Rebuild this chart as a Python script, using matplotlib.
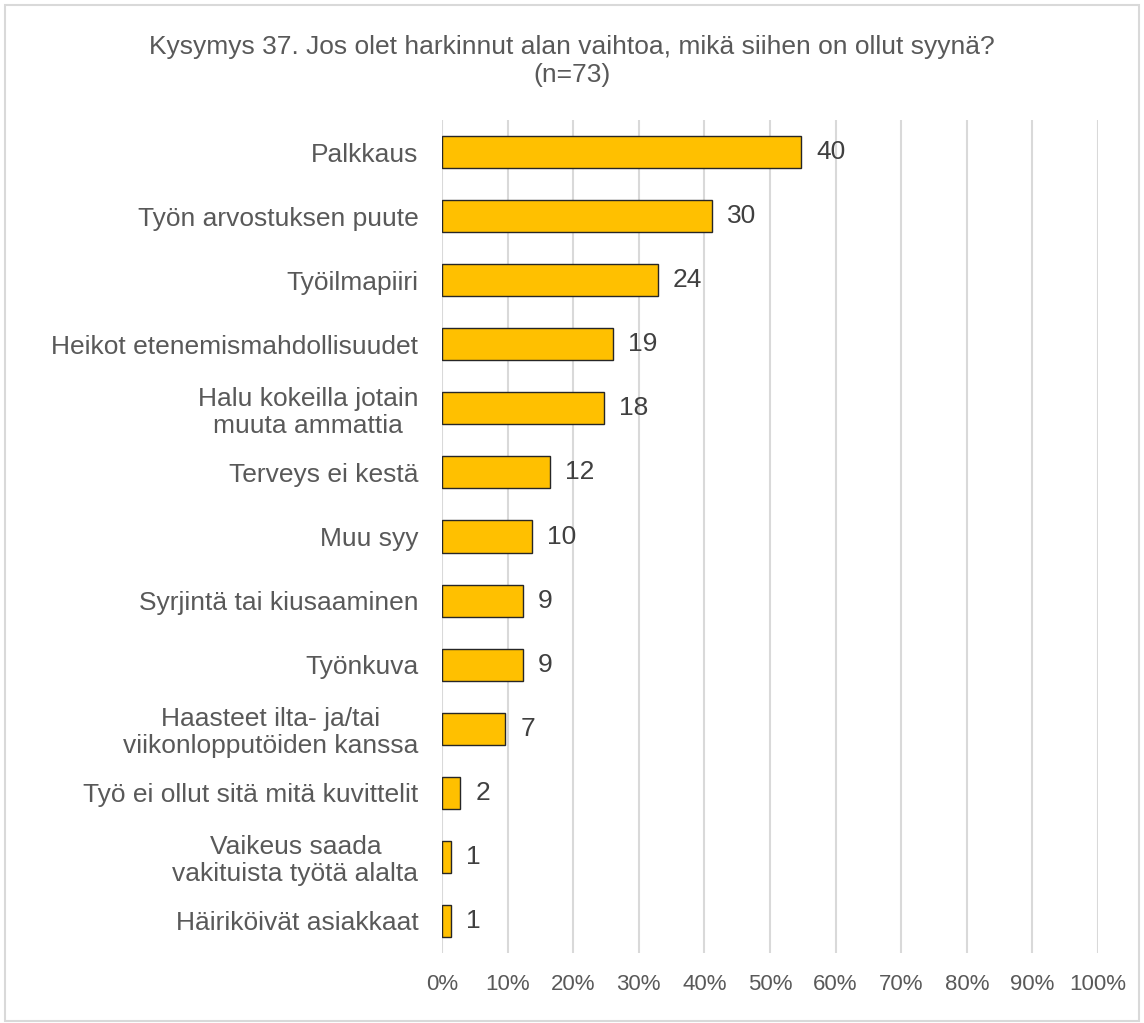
import matplotlib.pyplot as plt
from matplotlib.patches import Rectangle

# data (counts, n=73)
categories = ["Palkkaus", "Työn arvostuksen puute", "Työilmapiiri",
              "Heikot etenemismahdollisuudet", "Halu kokeilla jotain\nmuuta ammattia",
              "Terveys ei kestä", "Muu syy", "Syrjintä tai kiusaaminen", "Työnkuva",
              "Haasteet ilta- ja/tai\nviikonlopputöiden kanssa",
              "Työ ei ollut sitä mitä kuvittelit",
              "Vaikeus saada\nvakituista työtä alalta", "Häiriköivät asiakkaat"]
counts = [40, 30, 24, 19, 18, 12, 10, 9, 9, 7, 2, 1, 1]
n_total = 73
title = "Kysymys 37. Jos olet harkinnut alan vaihtoa, mikä siihen on ollut syynä?\n(n=73)"

plt.rcParams['font.family'] = ['Liberation Sans', 'DejaVu Sans']
txt = "#595959"

fig = plt.figure(figsize=(11.44, 10.23), dpi=100)
ax = fig.add_axes([0.3864, 0.0684, 0.5734, 0.8143])

pct = [c / n_total * 100 for c in counts]
ypos = list(range(len(categories)))[::-1]
ax.barh(ypos, pct, height=0.5, color="#FFC000", edgecolor="#262626", linewidth=1, zorder=3)

for y, p, c in zip(ypos, pct, counts):
    ax.annotate(str(c), (p, y), xytext=(11, 0), textcoords="offset points",
                va="center", ha="left", fontsize=19, color="#404040")

ax.set_xlim(0, 100)
ax.set_ylim(-0.5, len(categories) - 0.5)
ax.set_xticks(range(0, 101, 10))
ax.set_xticklabels([f"{t}%" for t in range(0, 101, 10)], fontsize=16, color=txt)
ax.set_yticks(ypos)
ax.set_yticklabels(categories, fontsize=19, color=txt, multialignment="center",
                   linespacing=1.15)
ax.tick_params(axis="both", length=0)
ax.tick_params(axis="y", pad=17)
ax.tick_params(axis="x", pad=15)
ax.grid(axis="x", color="#D9D9D9", linewidth=1.5, zorder=0)
for s in ax.spines.values():
    s.set_visible(False)

fig.text(0.5, 0.940, title, ha="center", va="center", fontsize=19, color=txt,
         linespacing=1.2)

fig.patches.append(Rectangle((0.004, 0.002), 0.992, 0.993, transform=fig.transFigure,
                             fill=False, edgecolor="#D9D9D9", linewidth=1.5))

fig.savefig("out.png", dpi=100)
